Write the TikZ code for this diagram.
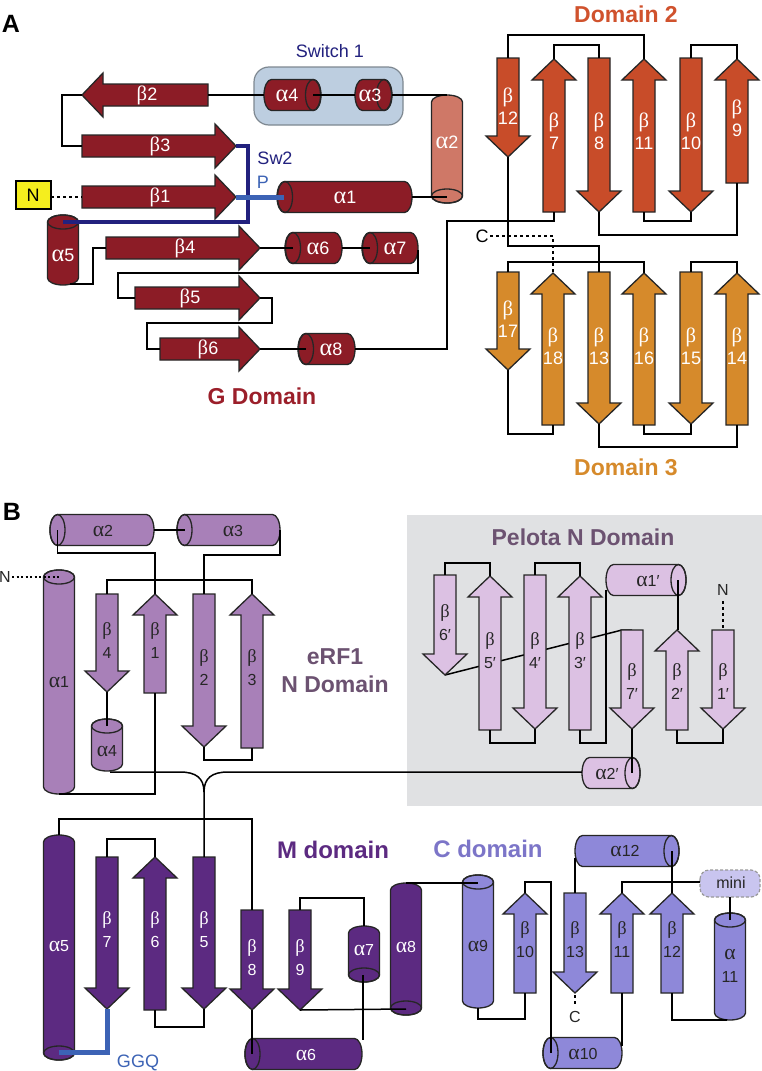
\documentclass[tikz,border=0pt]{standalone}
\usepackage{fontspec}
\setmainfont{Liberation Sans}
\newfontfamily\gka[Scale=1.35]{Liberation Serif}
\newfontfamily\gkb[Scale=1.15]{Liberation Serif}
\newcommand{\ga}{{\gka α}}
\newcommand{\gb}{{\gkb β}}
\definecolor{gd}{HTML}{8C1C26}
\definecolor{sal}{HTML}{CF7867}
\definecolor{swbox}{HTML}{BDCEE0}
\definecolor{swedge}{HTML}{7E8891}
\definecolor{swnavy}{HTML}{22217E}
\definecolor{pblue}{HTML}{3C63B5}
\definecolor{dtwo}{HTML}{C84C29}
\definecolor{dtwot}{HTML}{D0522D}
\definecolor{dthree}{HTML}{D68A2B}
\definecolor{gtxt}{HTML}{9B1F2A}
\definecolor{nd}{HTML}{A880B8}
\definecolor{ntxt}{HTML}{6C5271}
\definecolor{pel}{HTML}{DCC1E3}
\definecolor{pbox}{HTML}{E0E1E3}
\definecolor{md}{HTML}{5C2A81}
\definecolor{cd}{HTML}{8E88D9}
\definecolor{ctxt}{HTML}{7C75C8}
\definecolor{minif}{HTML}{C9C5EF}
\definecolor{ylw}{HTML}{F5EE1E}
% horizontal cylinder: x1, x2, yc, capx, fill
\newcommand{\hcyl}[5]{\filldraw[shp,fill=#5] ({#1+7.5},{#3-15.5}) arc[start angle=270,end angle=90,x radius=7.5,y radius=15.5] -- ({#2-7.5},{#3+15.5}) arc[start angle=90,end angle=-90,x radius=7.5,y radius=15.5] -- cycle; \draw[shp] (#4,#3) ellipse[x radius=7.5,y radius=15.5];}
% vertical cylinder: xc, y1, y2, capy, fill
\newcommand{\vcyl}[5]{\filldraw[shp,fill=#5] ({#1-15.5},{#2+7}) arc[start angle=180,end angle=360,x radius=15.5,y radius=7] -- ({#1+15.5},{#3-7}) arc[start angle=0,end angle=180,x radius=15.5,y radius=7] -- cycle; \draw[shp] (#1,#4) ellipse[x radius=15.5,y radius=7];}
% up strand: xc, ybottom, ytip, fill
\newcommand{\ustr}[4]{\filldraw[shp,fill=#4] ({#1-11},#2) -- ({#1-11},{#3+21}) -- ({#1-22},{#3+21}) -- (#1,#3) -- ({#1+22},{#3+21}) -- ({#1+11},{#3+21}) -- ({#1+11},#2) -- cycle;}
% down strand: xc, ytop, ytip, fill
\newcommand{\dstr}[4]{\filldraw[shp,fill=#4] ({#1-11},#2) -- ({#1-11},{#3-21}) -- ({#1-22},{#3-21}) -- (#1,#3) -- ({#1+22},{#3-21}) -- ({#1+11},{#3-21}) -- ({#1+11},#2) -- cycle;}
% right strand: yc, xleft, xtip, fill
\newcommand{\rstr}[4]{\filldraw[shp,fill=#4] (#2,{#1-11}) -- ({#3-21},{#1-11}) -- ({#3-21},{#1-22}) -- (#3,#1) -- ({#3-21},{#1+22}) -- ({#3-21},{#1+11}) -- (#2,{#1+11}) -- cycle;}
% left strand: yc, xright, xtip, fill
\newcommand{\lstr}[4]{\filldraw[shp,fill=#4] (#2,{#1-11}) -- ({#3+21},{#1-11}) -- ({#3+21},{#1-22}) -- (#3,#1) -- ({#3+21},{#1+22}) -- ({#3+21},{#1+11}) -- (#2,{#1+11}) -- cycle;}
\begin{document}
\begin{tikzpicture}[x=1pt,y=-1pt,
  shp/.style={draw=black!85,line width=1.3pt,line join=miter},
  conn/.style={line width=1.5pt,black},
  dots/.style={line width=1.4pt,black,dash pattern=on 3pt off 3pt},
  lw/.style={text=white,font=\fontsize{18}{22}\selectfont,align=center,inner sep=0pt},
  lwb/.style={text=white,font=\fontsize{16}{23}\selectfont,align=center,inner sep=0pt},
  lk/.style={text=black!85,font=\fontsize{16}{23}\selectfont,align=center,inner sep=0pt},
  ttl/.style={font=\bfseries\fontsize{23}{28}\selectfont,align=center,inner sep=0pt},
  panel/.style={font=\bfseries\fontsize{25}{28}\selectfont,inner sep=0pt}]
\useasboundingbox (0,0) rectangle (762,1071);
\fill[white] (0,0) rectangle (762,1071);
% backgrounds
\fill[pbox] (407,515) rectangle (762,806);
\filldraw[fill=swbox,draw=swedge,line width=1.2pt,rounded corners=15pt] (254,67) rectangle (403,125);
% pelota diagonal (behind strands)
\draw[conn] (445,675) -- (622,630) -- (632,630);
% ===== Panel A shapes =====
\lstr{95}{208}{82}{gd}
\rstr{146}{82}{236}{gd}
\rstr{197}{82}{236}{gd}
\rstr{248}{106}{260}{gd}
\rstr{298}{135}{260}{gd}
\rstr{349}{160}{260}{gd}
\hcyl{264}{321}{95}{313}{gd}
\hcyl{355}{392}{95}{384}{gd}
\vcyl{447}{95}{203}{196}{sal}
\hcyl{277}{412}{197}{285}{gd}
\vcyl{63}{215}{285}{222}{gd}
\hcyl{285}{342}{248}{293}{gd}
\hcyl{362}{418}{248}{370}{gd}
\hcyl{298}{355}{349}{306}{gd}
\filldraw[fill=ylw,draw=black,line width=1.5pt] (16,181) rectangle (51,209);
% Domain 2
\dstr{508}{58}{157}{dtwo}
\ustr{554}{212}{59}{dtwo}
\dstr{599}{58}{212}{dtwo}
\ustr{644}{212}{59}{dtwo}
\dstr{691}{58}{212}{dtwo}
\ustr{737}{183}{59}{dtwo}
% Domain 3
\dstr{508}{272}{370}{dthree}
\ustr{553}{425}{273}{dthree}
\dstr{599}{272}{424}{dthree}
\ustr{644}{425}{273}{dthree}
\dstr{691}{272}{424}{dthree}
\ustr{737}{425}{273}{dthree}
% ===== Panel B shapes =====
\hcyl{50}{154}{530}{57.5}{nd}
\hcyl{177}{280}{530}{184.5}{nd}
\vcyl{59}{570}{794}{577}{nd}
\dstr{107}{594}{692}{nd}
\vcyl{107}{719}{771}{726}{nd}
\ustr{155}{693}{594}{nd}
\dstr{204}{594}{747}{nd}
\ustr{252}{748}{594}{nd}
% Pelota
\dstr{445}{575}{675}{pel}
\ustr{490}{730}{576}{pel}
\dstr{535}{575}{729}{pel}
\ustr{580}{730}{576}{pel}
\dstr{632}{630}{729}{pel}
\ustr{677}{730}{630}{pel}
\dstr{723}{630}{729}{pel}
\hcyl{606}{686}{580}{678.5}{pel}
\hcyl{582}{640}{773}{632.5}{pel}
% M domain
\vcyl{59}{835}{1060}{1053}{md}
\dstr{107}{857}{1009}{md}
\ustr{155}{1010}{857}{md}
\dstr{204}{857}{1009}{md}
\dstr{252}{910}{1010}{md}
\dstr{300}{910}{1010}{md}
\vcyl{364}{926}{982}{975}{md}
\hcyl{245}{362}{1054}{252.5}{md}
\vcyl{406}{883}{1015}{1008}{md}
% C domain
\vcyl{478}{875}{1008}{882}{cd}
\ustr{525}{993}{893}{cd}
\hcyl{543}{622}{1053}{550.5}{cd}
\ustr{622}{993}{893}{cd}
\ustr{672}{993}{893}{cd}
\hcyl{575}{679}{851}{671.5}{cd}
\dstr{575}{893}{993}{cd}
\vcyl{730}{913}{1020}{920}{cd}
\filldraw[fill=minif,draw=black!40,line width=1.2pt,dash pattern=on 3pt off 2pt,rounded corners=9pt] (700,870) rectangle (760,897);
% ===== Connectors Panel A =====
\draw[conn] (208,95) -- (264,95);
\draw[conn] (313,95) -- (355,95);
\draw[conn] (392,95) -- (447,95);
\draw[conn] (82,95) -- (62,95) -- (62,146) -- (82,146);
\draw[conn] (412,197) -- (447,197);
\draw[dots] (51,197) -- (82,197);
\draw[conn] (70,284) -- (93,284) -- (93,248) -- (106,248);
\draw[conn] (260,248) -- (293,248);
\draw[conn] (342,248) -- (370,248);
\draw[conn] (418,250) -- (418,273) -- (118,273) -- (118,298) -- (135,298);
\draw[conn] (260,298) -- (272,298) -- (272,323) -- (147,323) -- (147,349) -- (160,349);
\draw[conn] (260,349) -- (306,349);
\draw[conn] (355,349) -- (447,349) -- (447,221) -- (554,221) -- (554,212);
\draw[conn] (508,58) -- (508,35) -- (644,35) -- (644,59);
\draw[conn] (554,59) -- (554,45) -- (599,45) -- (599,58);
\draw[conn] (691,58) -- (691,45) -- (737,45) -- (737,59);
\draw[conn] (644,212) -- (644,221) -- (691,221) -- (691,212);
\draw[conn] (599,212) -- (599,235) -- (737,235) -- (737,183);
\draw[conn] (508,157) -- (508,246) -- (599,246) -- (599,272);
\draw[dots] (490,236) -- (553,236) -- (553,273);
\draw[conn] (508,272) -- (508,262) -- (644,262) -- (644,273);
\draw[conn] (691,272) -- (691,262) -- (737,262) -- (737,273);
\draw[conn] (508,370) -- (508,434) -- (553,434) -- (553,425);
\draw[conn] (644,425) -- (644,434) -- (691,434) -- (691,424);
\draw[conn] (599,424) -- (599,447) -- (737,447) -- (737,425);
\draw[line width=4.5pt,swnavy] (236,146) -- (248,146) -- (248,222) -- (63,222);
\draw[line width=5pt,pblue] (236,197) -- (284,197);
% ===== Connectors Panel B =====
\draw[conn] (57.5,530) -- (57.5,553) -- (155,553) -- (155,594);
\draw[conn] (154,530) -- (184.5,530);
\draw[conn] (280,530) -- (280,555) -- (204,555) -- (204,594);
\draw[conn] (107,594) -- (107,580) -- (252,580) -- (252,594);
\draw[line width=1.3pt,dash pattern=on 2pt off 2.5pt] (12,577) -- (59,577);
\draw[conn] (107,692) -- (107,726);
\draw[conn] (155,693) -- (155,794) -- (59,794);
\draw[conn] (204,747) -- (204,760) -- (252,760) -- (252,748);
\draw[conn] (110,772) -- (180,772) .. controls (196,772) and (204,778) .. (204,792);
\draw[conn] (582,772) -- (228,772) .. controls (212,772) and (204,778) .. (204,792) -- (204,857);
\draw[conn] (445,575) -- (445,563) -- (490,563) -- (490,576);
\draw[conn] (535,575) -- (535,563) -- (580,563) -- (580,576);
\draw[conn] (490,730) -- (490,743) -- (535,743) -- (535,729);
\draw[conn] (580,730) -- (580,743) -- (606,743) -- (606,590);
\draw[conn] (678,580) -- (678,630);
\draw[conn] (677,730) -- (677,743) -- (723,743) -- (723,729);
\draw[conn] (632,729) -- (632,773);
\draw[dots] (723,601) -- (723,630);
\draw[conn] (59,835) -- (59,819) -- (252,819) -- (252,910);
\draw[conn] (107,857) -- (107,839) -- (155,839) -- (155,857);
\draw[conn] (155,1010) -- (155,1027) -- (204,1027) -- (204,1009);
\draw[conn] (252,1010) -- (252,1054);
\draw[conn] (363,975) -- (363,1040);
\draw[conn] (364,926) -- (364,898) -- (300,898) -- (300,910);
\draw[conn] (300,1010) -- (406,1009);
\draw[conn] (406,883) -- (478,883);
\draw[conn] (478,1008) -- (478,1019) -- (525,1019) -- (525,993);
\draw[conn] (525,893) -- (525,882) -- (551,882) -- (551,1053);
\draw[conn] (622,1046) -- (622,993);
\draw[conn] (622,893) -- (622,882) -- (700,882);
\draw[conn] (730,897) -- (730,920);
\draw[conn] (727,1020) -- (672,1020) -- (672,993);
\draw[conn] (672,893) -- (672,851);
\draw[conn] (575,858) -- (575,893);
\draw[line width=1.3pt,dash pattern=on 3pt off 3pt] (575,995) -- (575,1005);
\draw[line width=5pt,pblue] (107,1009) -- (107,1052) -- (59,1052);
% ===== Text Panel A =====
\node[panel] (pA) at (11,24) {A};
\node[font=\fontsize{18}{22}\selectfont,text=swnavy,inner sep=0pt] (tsw1) at (330,51) {Switch 1};
\node[lw] (tb2) at (147,95) {\gb2};
\node[lw] (ta4) at (287,95) {\ga4};
\node[lw] (ta3) at (370,95) {\ga3};
\node[lw] (ta2) at (447,142) {\ga2};
\node[lw] (tb3) at (160,146) {\gb3};
\node[font=\fontsize{18}{22}\selectfont,text=swnavy,inner sep=0pt] (tsw2) at (275,158) {Sw2};
\node[font=\fontsize{18}{22}\selectfont,text=pblue,inner sep=0pt] (tp) at (263,182) {P};
\node[font=\fontsize{18}{22}\selectfont,inner sep=0pt] (tnA) at (33,195) {N};
\node[lw] (tb1) at (160,197) {\gb1};
\node[lw] (ta1) at (345,197) {\ga1};
\node[lw] (ta5) at (63,255) {\ga5};
\node[lw] (tb4) at (185,248) {\gb4};
\node[lw] (ta6) at (318,248) {\ga6};
\node[lw] (ta7) at (395,248) {\ga7};
\node[lw] (tb5) at (190,298) {\gb5};
\node[lw] (tb6) at (208,349) {\gb6};
\node[lw] (ta8) at (331,349) {\ga8};
\node[ttl,text=gtxt] (tgd) at (262,396) {G Domain};
\node[ttl,text=dtwot] (td2) at (626,14) {Domain 2};
\node[ttl,text=dthree] (td3) at (626,467) {Domain 3};
\node[lw] (tb12) at (508,106) {\gb\\12};
\node[lw] (tb7) at (554,131) {\gb\\7};
\node[lw] (tb8) at (599,131) {\gb\\8};
\node[lw] (tb11) at (644,131) {\gb\\11};
\node[lw] (tb10) at (691,131) {\gb\\10};
\node[lw] (tb9) at (737,118) {\gb\\9};
\node[font=\fontsize{18}{22}\selectfont,inner sep=0pt] (tcA) at (482,236) {C};
\node[lw] (tb17) at (508,319) {\gb\\17};
\node[lw] (tb18) at (553,346) {\gb\\18};
\node[lw] (tb13) at (599,346) {\gb\\13};
\node[lw] (tb16) at (644,346) {\gb\\16};
\node[lw] (tb15) at (691,346) {\gb\\15};
\node[lw] (tb14) at (737,346) {\gb\\14};
% ===== Text Panel B =====
\node[panel] (pB) at (12,512) {B};
\node[lk] (na2) at (103,531) {\ga2};
\node[lk] (na3) at (233,531) {\ga3};
\node[lk] (nN) at (5,577) {N};
\node[lk] (na1) at (59,682) {\ga1};
\node[lk] (nb4) at (107,641) {\gb\\4};
\node[lk] (nb1) at (155,641) {\gb\\1};
\node[lk] (nb2) at (204,668) {\gb\\2};
\node[lk] (nb3) at (252,668) {\gb\\3};
\node[lk] (na4) at (107,751) {\ga4};
\node[ttl,text=ntxt,font=\bfseries\fontsize{23}{28}\selectfont] (teRF) at (335,671) {eRF1\\N Domain};
\node[ttl,text=ntxt] (tpel) at (583,537) {Pelota N Domain};
\node[lk] (pb6) at (445,623) {\gb\\6′};
\node[lk] (pb5) at (490,651) {\gb\\5′};
\node[lk] (pb4) at (535,651) {\gb\\4′};
\node[lk] (pb3) at (580,651) {\gb\\3′};
\node[lk] (pb7) at (632,682) {\gb\\7′};
\node[lk] (pb2) at (677,682) {\gb\\2′};
\node[lk] (pb1) at (723,682) {\gb\\1′};
\node[lk] (pa1) at (648,581) {\ga1′};
\node[lk] (pa2) at (607,774) {\ga2′};
\node[lk] (pN) at (723,590) {N};
\node[ttl,text=md,font=\bfseries\fontsize{24}{28}\selectfont] (tmd) at (333,850) {M domain};
\node[ttl,text=ctxt,font=\bfseries\fontsize{24}{28}\selectfont] (tcd) at (488,849) {C domain};
\node[lwb] (ma5) at (59,946) {\ga5};
\node[lwb] (mb7) at (107,930) {\gb\\7};
\node[lwb] (mb6) at (155,930) {\gb\\6};
\node[lwb] (mb5) at (204,930) {\gb\\5};
\node[lwb] (mb8) at (252,958) {\gb\\8};
\node[lwb] (mb9) at (300,958) {\gb\\9};
\node[lwb] (ma7) at (364,950) {\ga7};
\node[lwb] (ma6) at (306,1055) {\ga6};
\node[lwb] (ma8) at (406,947) {\ga8};
\node[font=\fontsize{18}{22}\selectfont,text=pblue,inner sep=0pt] (tggq) at (138,1063) {GGQ};
\node[lk] (ca9) at (478,946) {\ga9};
\node[lk] (cb10) at (525,940) {\gb\\10};
\node[lk] (cb13) at (575,940) {\gb\\13};
\node[lk] (cb11) at (622,940) {\gb\\11};
\node[lk] (cb12) at (672,940) {\gb\\12};
\node[lk] (ca11) at (730,966) {\ga\\11};
\node[lk] (ca12) at (625,851) {\ga12};
\node[lk] (ca10) at (583,1054) {\ga10};
\node[lk] (cmini) at (731,883) {mini};
\node[lk] (cC) at (575,1017) {C};
\end{tikzpicture}
\end{document}
